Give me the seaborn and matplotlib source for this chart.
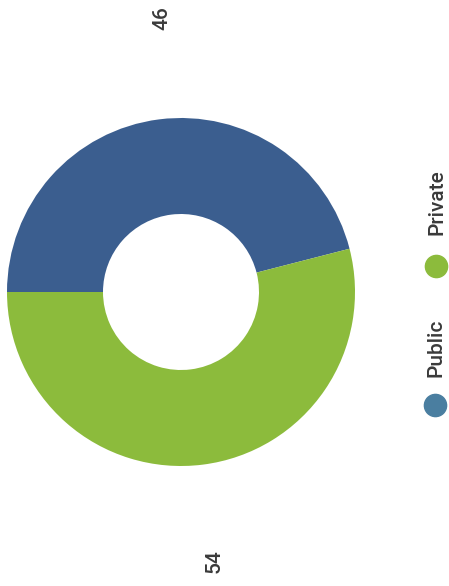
import matplotlib
matplotlib.use("Agg")
import matplotlib.pyplot as plt
import seaborn as sns

sns.set_theme(style="white")
plt.rcParams['font.family'] = ['Roboto', 'DejaVu Sans']

# data
categories = ['Public', 'Private']
shares = [46, 54]
colors = ['#3b5e8f', '#8cbb3c']
legend_colors = ['#4a7ea0', '#8cbb3c']

W, H = 449, 586
fig = plt.figure(figsize=(W / 100, H / 100), dpi=100)
ax = fig.add_axes([0, 0, 1, 1])

# the whole chart is turned a quarter turn, so draw it that way
cx, cy, r = 181, 294, 174
ax.pie(shares, colors=colors, startangle=180, counterclock=False,
       center=(cx, cy), radius=r, frame=True,
       wedgeprops={'width': 96, 'linewidth': 0})
ax.set_xlim(0, W)
ax.set_ylim(0, H)
ax.axis('off')

# value labels
label_pos = [(162, 568), (214, 25)]
for v, (x, y) in zip(shares, label_pos):
    ax.text(x, y, str(v), rotation=90, ha='center', va='center',
            fontsize=15, fontweight='medium', color='#3a3a3a')

# legend, rotated as well
marker_pos = [(435, 181), (436, 320)]
text_bottom = [209, 351]
for cat, col, (mx, my), tb in zip(categories, legend_colors, marker_pos, text_bottom):
    ax.plot(mx, my, 'o', color=col, markersize=16)
    ax.text(mx + 1, tb, cat, rotation=90, ha='center', va='bottom',
            fontsize=15, fontweight='medium', color='#3a3a3a')

fig.savefig('out.png', dpi=100)
